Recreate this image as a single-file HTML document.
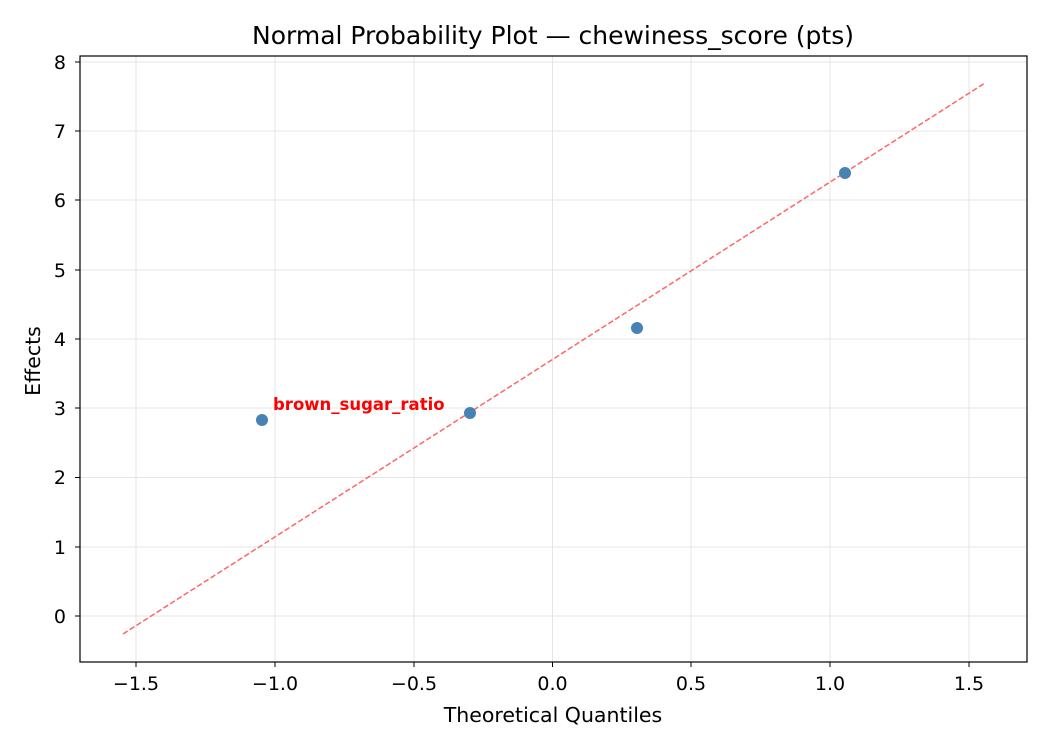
<!DOCTYPE html>
<html><head><meta charset="utf-8"><style>
body{margin:0;background:#fff;}
svg{display:block;font-family:"DejaVu Sans","Liberation Sans",sans-serif;}
</style></head><body>
<svg width="1050" height="750" viewBox="0 0 1050 750" xmlns="http://www.w3.org/2000/svg">
<rect width="1050" height="750" fill="#fff"/>
<g stroke="#e5e5e5" stroke-width="1">
<line x1="136" y1="56" x2="136" y2="662"/>
<line x1="275" y1="56" x2="275" y2="662"/>
<line x1="414" y1="56" x2="414" y2="662"/>
<line x1="552.5" y1="56" x2="552.5" y2="662"/>
<line x1="691" y1="56" x2="691" y2="662"/>
<line x1="830" y1="56" x2="830" y2="662"/>
<line x1="969" y1="56" x2="969" y2="662"/>
<line x1="80" y1="616" x2="1027" y2="616"/>
<line x1="80" y1="547" x2="1027" y2="547"/>
<line x1="80" y1="477.5" x2="1027" y2="477.5"/>
<line x1="80" y1="408" x2="1027" y2="408"/>
<line x1="80" y1="339" x2="1027" y2="339"/>
<line x1="80" y1="270" x2="1027" y2="270"/>
<line x1="80" y1="200" x2="1027" y2="200"/>
<line x1="80" y1="131" x2="1027" y2="131"/>
<line x1="80" y1="62" x2="1027" y2="62"/>
</g>
<line x1="123" y1="634" x2="985" y2="83" stroke="#ff6666" stroke-width="1.5" stroke-dasharray="5.5,2.5"/>
<g fill="#4682b4">
<circle cx="262" cy="420" r="6"/>
<circle cx="470" cy="413" r="6"/>
<circle cx="637" cy="328" r="6"/>
<circle cx="845" cy="173" r="6"/>
</g>
<text x="273" y="410" font-size="16.5" font-weight="bold" fill="#ff0000">brown_sugar_ratio</text>
<rect x="80" y="56" width="947" height="606" fill="none" stroke="#000" stroke-width="1.2"/>
<g stroke="#000" stroke-width="1">
<line x1="136" y1="662" x2="136" y2="667"/>
<line x1="275" y1="662" x2="275" y2="667"/>
<line x1="414" y1="662" x2="414" y2="667"/>
<line x1="552.5" y1="662" x2="552.5" y2="667"/>
<line x1="691" y1="662" x2="691" y2="667"/>
<line x1="830" y1="662" x2="830" y2="667"/>
<line x1="969" y1="662" x2="969" y2="667"/>
<line x1="75" y1="616" x2="80" y2="616"/>
<line x1="75" y1="547" x2="80" y2="547"/>
<line x1="75" y1="477.5" x2="80" y2="477.5"/>
<line x1="75" y1="408" x2="80" y2="408"/>
<line x1="75" y1="339" x2="80" y2="339"/>
<line x1="75" y1="270" x2="80" y2="270"/>
<line x1="75" y1="200" x2="80" y2="200"/>
<line x1="75" y1="131" x2="80" y2="131"/>
<line x1="75" y1="62" x2="80" y2="62"/>
</g>
<g font-size="19" fill="#000" text-anchor="middle">
<text x="136" y="690">−1.5</text>
<text x="275" y="690">−1.0</text>
<text x="414" y="690">−0.5</text>
<text x="552.5" y="690">0.0</text>
<text x="691" y="690">0.5</text>
<text x="830" y="690">1.0</text>
<text x="969" y="690">1.5</text>
</g>
<g font-size="19" fill="#000" text-anchor="end">
<text x="66" y="623">0</text>
<text x="66" y="554">1</text>
<text x="66" y="484">2</text>
<text x="66" y="415">3</text>
<text x="66" y="346">4</text>
<text x="66" y="277">5</text>
<text x="66" y="207">6</text>
<text x="66" y="138">7</text>
<text x="66" y="69">8</text>
</g>
<text x="553" y="722" font-size="20.5" text-anchor="middle">Theoretical Quantiles</text>
<text transform="translate(40,361) rotate(-90)" font-size="20.5" text-anchor="middle">Effects</text>
<text x="553" y="44" font-size="25" text-anchor="middle">Normal Probability Plot — chewiness_score (pts)</text>
</svg>
</body></html>
